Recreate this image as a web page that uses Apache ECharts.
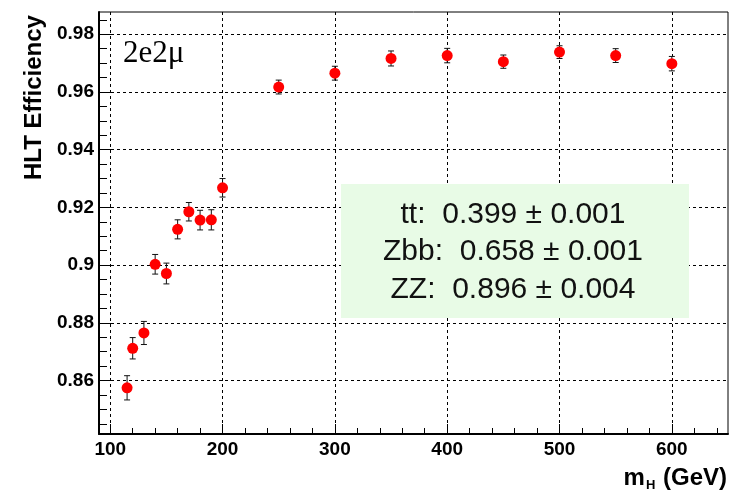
<!DOCTYPE html>
<html>
<head>
<meta charset="utf-8">
<script src="https://cdn.jsdelivr.net/npm/echarts@6/dist/echarts.min.js"></script>
<style>html,body{margin:0;padding:0;background:#fff;}#c{width:738px;height:490px;}</style>
</head>
<body>
<div id="c"></div>
<script>
// Data
const masses = [115, 120, 130, 140, 150, 160, 170, 180, 190, 200, 250, 300, 350, 400, 450, 500, 550, 600];
const efficiency = [0.8575, 0.8712, 0.8765, 0.9003, 0.8971, 0.9124, 0.9185, 0.9156, 0.9157, 0.9268,
                    0.9617, 0.9665, 0.9716, 0.9726, 0.9705, 0.9738, 0.9726, 0.9698];
const errors = [0.0042, 0.0037, 0.0040, 0.0034, 0.0036, 0.0033, 0.0032, 0.0034, 0.0035, 0.0032,
                0.0024, 0.0024, 0.0026, 0.0025, 0.0023, 0.0022, 0.0024, 0.0025];
const xMajorTicks = [100, 200, 300, 400, 500, 600];
const xMinorTicks = [120, 140, 160, 180, 220, 240, 260, 280, 320, 340, 360, 380, 420, 440, 460, 480, 520, 540, 560, 580, 620, 640];
const yMajorTicks = [0.86, 0.88, 0.90, 0.92, 0.94, 0.96, 0.98];
const yMinorTicks = [0.845, 0.85, 0.855, 0.865, 0.87, 0.875, 0.885, 0.89, 0.895, 0.905, 0.91, 0.915,
                     0.925, 0.93, 0.935, 0.945, 0.95, 0.955, 0.965, 0.97, 0.975, 0.985];
const channelLabel = '2e2\u03bc';
const boxLines = ['tt:  0.399 \u00b1 0.001', 'Zbb:  0.658 \u00b1 0.001', 'ZZ:  0.896 \u00b1 0.004'];

const sans = "'Liberation Sans', Arial, sans-serif";
const serif = "'Liberation Serif', 'Times New Roman', serif";

const chart = echarts.init(document.getElementById('c'), null, {renderer: 'canvas'});

const pts = masses.map((m, i) => [m, efficiency[i]]);
const errData = masses.map((m, i) => [m, efficiency[i] - errors[i], efficiency[i] + errors[i]]);

const labelStyle = {fontFamily: sans, fontWeight: 'bold', fontSize: 19, color: '#000'};

chart.setOption({
  animation: false,
  backgroundColor: '#fff',
  grid: {left: 99, top: 12, right: 10, bottom: 56, show: true, borderColor: '#000', borderWidth: 1, backgroundColor: 'transparent'},
  xAxis: [{
    type: 'value', min: 90, max: 650, position: 'bottom',
    axisLine: {show: true, onZero: false, lineStyle: {color: '#000', width: 2}},
    axisTick: {show: true, inside: true, length: 10, customValues: xMajorTicks, lineStyle: {color: '#000', width: 1}},
    axisLabel: {show: true, customValues: xMajorTicks, margin: 6, ...labelStyle},
    splitLine: {show: true, lineStyle: {color: '#000', width: 1, type: [3, 3]}}
  }, {
    type: 'value', min: 90, max: 650, position: 'bottom',
    axisLine: {show: false},
    axisTick: {show: true, inside: true, length: 6, customValues: xMinorTicks, lineStyle: {color: '#000', width: 1}},
    axisLabel: {show: false},
    splitLine: {show: false}
  }],
  yAxis: [{
    type: 'value', min: 0.8415, max: 0.9877, position: 'left',
    axisLine: {show: true, onZero: false, lineStyle: {color: '#000', width: 2}},
    axisTick: {show: true, inside: true, length: 13, customValues: yMajorTicks, lineStyle: {color: '#000', width: 1}},
    axisLabel: {show: true, customValues: yMajorTicks, margin: 5, ...labelStyle,
      formatter: v => String(+(+v).toFixed(3))},
    splitLine: {show: true, lineStyle: {color: '#000', width: 1, type: [3, 3]}}
  }, {
    type: 'value', min: 0.8415, max: 0.9877, position: 'left',
    axisLine: {show: false},
    axisTick: {show: true, inside: true, length: 8, customValues: yMinorTicks, lineStyle: {color: '#000', width: 1}},
    axisLabel: {show: false},
    splitLine: {show: false}
  }],
  series: [{
    type: 'custom',
    xAxisIndex: 0, yAxisIndex: 0,
    data: errData,
    z: 2,
    renderItem: function (params, api) {
      const x = api.value(0);
      const lo = api.coord([x, api.value(1)]);
      const hi = api.coord([x, api.value(2)]);
      const cw = 3;
      const st = {stroke: '#111', lineWidth: 1};
      return {
        type: 'group',
        children: [
          {type: 'line', shape: {x1: lo[0], y1: lo[1], x2: hi[0], y2: hi[1]}, style: st},
          {type: 'line', shape: {x1: lo[0] - cw, y1: lo[1], x2: lo[0] + cw, y2: lo[1]}, style: st},
          {type: 'line', shape: {x1: hi[0] - cw, y1: hi[1], x2: hi[0] + cw, y2: hi[1]}, style: st}
        ]
      };
    }
  }, {
    type: 'scatter',
    xAxisIndex: 0, yAxisIndex: 0,
    data: pts,
    symbol: 'circle',
    symbolSize: 11,
    z: 3,
    itemStyle: {color: '#ff0000', opacity: 1}
  }],
  graphic: [
    {
      type: 'rect', left: 341, top: 184, z: 10,
      shape: {width: 348, height: 134},
      style: {fill: '#e8fbe6', stroke: null}
    },
    ...boxLines.map((t, i) => ({
      type: 'text', z: 11,
      x: 513, y: 214.5 + i * 37.5,
      style: {text: t, x: 0, y: 0, font: '30px ' + sans, fill: '#111',
              align: 'center', verticalAlign: 'middle', textAlign: 'center', textVerticalAlign: 'middle'}
    })),
    {
      type: 'text', z: 11,
      x: 123, y: 54,
      style: {text: channelLabel, x: 0, y: 0, font: '31px ' + serif, fill: '#000',
              align: 'left', verticalAlign: 'middle', textAlign: 'left', textVerticalAlign: 'middle'}
    },
    {
      type: 'text', z: 11,
      x: 34, y: 97.5, rotation: Math.PI / 2,
      style: {text: 'HLT Efficiency', x: 0, y: 0, font: 'bold 24px ' + sans, fill: '#000',
              align: 'center', verticalAlign: 'middle', textAlign: 'center', textVerticalAlign: 'middle'}
    },
    {
      type: 'text', z: 11,
      x: 727, y: 478,
      style: {
        text: '{a|m}{b|H}{a| (GeV)}', x: 0, y: 0,
        align: 'right', verticalAlign: 'middle', textAlign: 'right', textVerticalAlign: 'middle',
        rich: {
          a: {fontFamily: sans, fontWeight: 'bold', fontSize: 24, fill: '#000', color: '#000'},
          b: {fontFamily: sans, fontWeight: 'bold', fontSize: 13, fill: '#000', color: '#000', padding: [14, 1, 0, 1]}
        }
      }
    }
  ]
});
</script>
</body>
</html>
